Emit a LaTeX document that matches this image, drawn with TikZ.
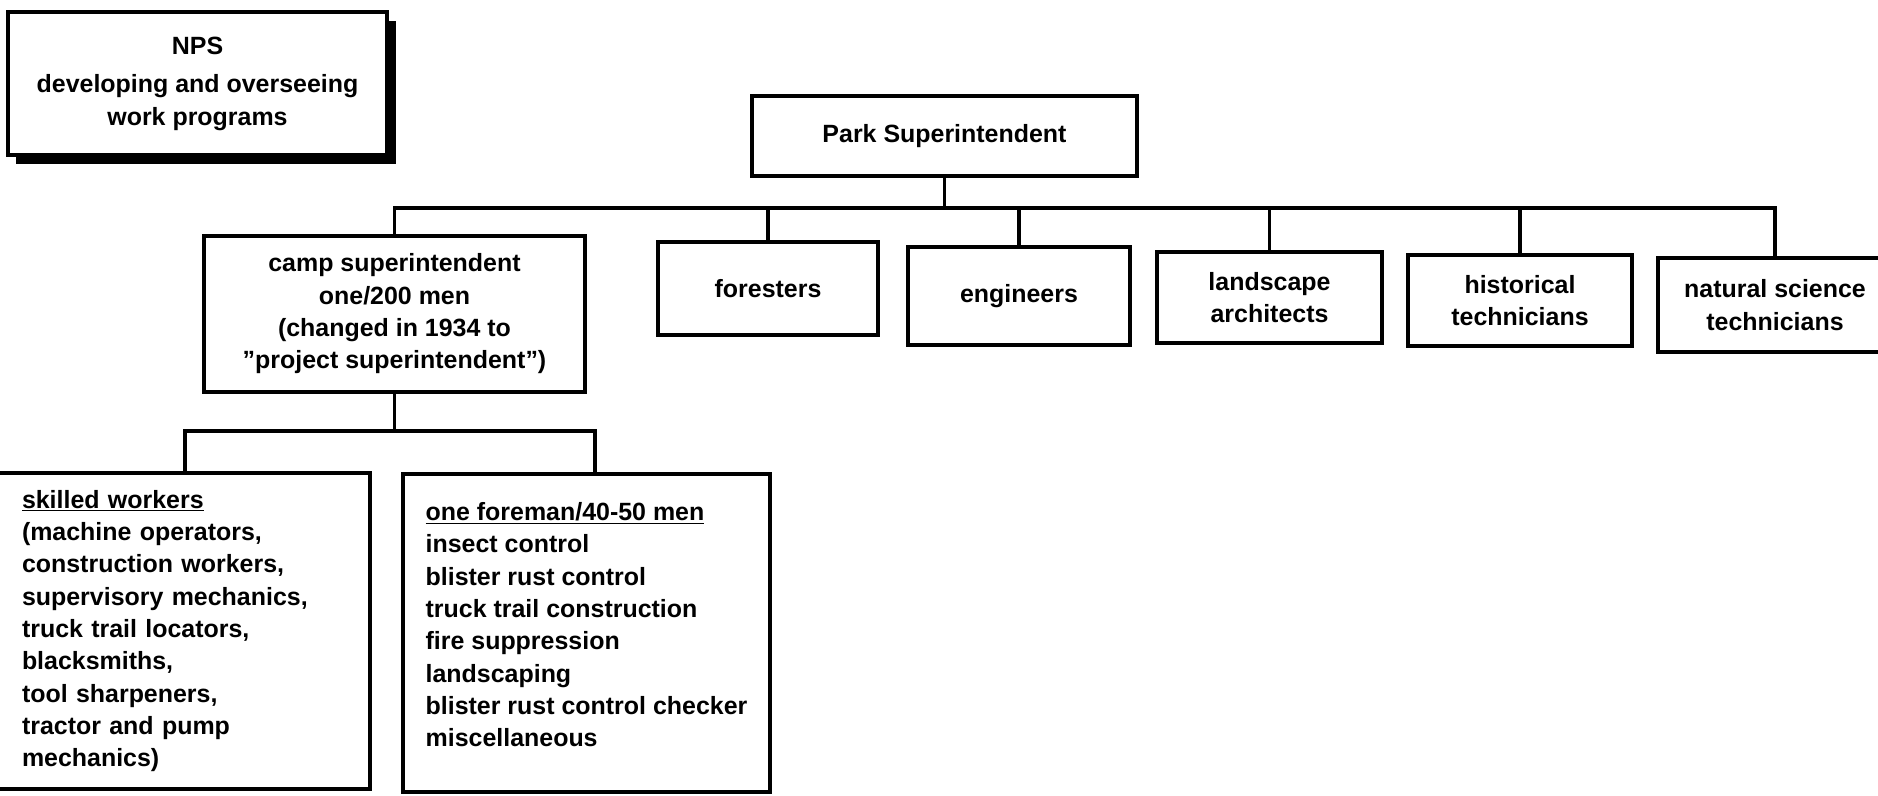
\documentclass[tikz,border=0pt]{standalone}
\usepackage{fontspec}
\setmainfont{Liberation Sans}
\usetikzlibrary{shadows}
\tikzset{
  box/.style = {draw, line width=1.9pt, fill=white, align=center, inner sep=0pt,
    font=\bfseries\fontsize{14.2}{18.4}\selectfont},
  link/.style = {line width=1.9pt}
}
\begin{document}
\begin{tikzpicture}
\useasboundingbox (0,0) rectangle (37.56,-15.9);
% NPS box with its heavy shadow
\node[box, minimum width=7.58cm, minimum height=2.86cm,
  drop shadow={fill=black, opacity=1, shadow xshift=0.17cm, shadow yshift=-0.17cm}]
  (nps) at (3.95,-1.67) {NPS\\[0.25em] developing and overseeing\\ work programs};
% top of the tree
\node[box, minimum width=7.7cm, minimum height=1.6cm] (park) at (18.89,-2.72) {Park Superintendent};
\node[box, minimum width=7.62cm, minimum height=3.12cm] (camp) at (7.89,-6.28)
  {camp superintendent\\ one/200 men\\ (changed in 1934 to\\ ''project superintendent'')};
\node[box, minimum width=4.4cm, minimum height=1.86cm] (foresters) at (15.36,-5.77) {foresters};
\node[box, minimum width=4.44cm, minimum height=1.96cm] (engineers) at (20.38,-5.92) {engineers};
\node[box, minimum width=4.5cm, minimum height=1.82cm] (landscape) at (25.39,-5.95) {landscape\\ architects};
\node[box, minimum width=4.48cm, minimum height=1.82cm] (historical) at (30.40,-6.01) {historical\\ technicians};
\node[box, minimum width=4.68cm, minimum height=1.88cm] (natural) at (35.50,-6.10) {natural science\\ technicians};
% lower level
\node[box, align=left, text width=6.32cm, minimum width=7.6cm, minimum height=6.32cm] (skilled) at (3.6,-12.62)
  {\underline{skilled workers}\\ (machine operators,\\ construction workers,\\ supervisory mechanics,\\
   truck trail locators,\\ blacksmiths,\\ tool sharpeners,\\ tractor and pump\\ mechanics)};
\node[box, align=left, minimum width=7.34cm, minimum height=6.36cm] (foreman) at (11.73,-12.66)
  {\underline{one foreman/40-50 men}\\ insect control\\ blister rust control\\ truck trail construction\\
   fire suppression\\ landscaping\\ blister rust control checker\\ miscellaneous\\[-9pt]};
% connectors
\coordinate (bus) at (18.89,-4.16);
\coordinate (split) at (7.89,-8.62);
\draw[link] (park.south) -- (bus);
\draw[link] (camp.north) |- (natural.north |- bus) -- (natural.north);
\foreach \n in {foresters,engineers,landscape,historical}
  \draw[link] (\n.north) -- (\n.north |- bus);
\draw[link] (camp.south) -- (split);
\draw[link] ([xshift=0.1cm]skilled.north) |- (split) -| ([xshift=0.17cm]foreman.north);
\end{tikzpicture}
\end{document}
